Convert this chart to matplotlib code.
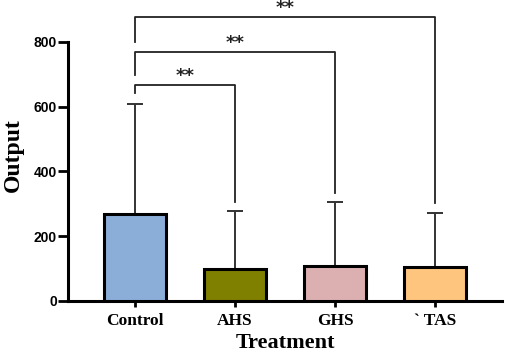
import matplotlib.pyplot as plt
import numpy as np

# datos
groups = ['Control', 'AHS', 'GHS', '` TAS']
means = [268, 99, 109, 105]
errors_up = [340, 179, 196, 167]
colors = ['#8aaed8', '#7f7f00', '#dcb0b1', '#fec57f']

# comparaciones (grupo destino, altura del corchete, fin de la pata izquierda, fin de la pata derecha)
comp_target = [1, 2, 3]
comp_height = [667, 769, 877]
comp_left_end = [642, 698, 800]
comp_right_end = [306, 333, 302]
comp_label = ['**', '**', '**']

fig = plt.figure(figsize=(5.05, 3.54), dpi=100)
ax = fig.add_axes([0.135, 0.15, 0.859, 0.823])

x = np.arange(len(groups))
ax.bar(x, means, width=0.62, color=colors, edgecolor='black', linewidth=2.2, zorder=3)
ax.errorbar(x, means, yerr=[np.zeros(len(means)), errors_up], fmt='none',
            ecolor='#333333', elinewidth=1.4, capsize=6, capthick=1.4, zorder=2)

# corchetes de significancia
for t, h, le, re, lab in zip(comp_target, comp_height, comp_left_end, comp_right_end, comp_label):
    ax.plot([0, 0, t, t], [le, h, h, re], color='#222222', lw=1.3, clip_on=False, zorder=4)
    ax.text(t / 2, h + 12, lab, ha='center', va='baseline', fontsize=13, fontweight='bold',
            color='#222222', clip_on=False)

ax.set_xlim(-0.67, 3.67)
ax.set_ylim(0, 900)
ax.set_yticks([0, 200, 400, 600, 800])
ax.set_xticks(x)
ax.set_xticklabels(groups, family='Liberation Serif', fontweight='bold', fontsize=12.5)
for lab in ax.get_yticklabels():
    lab.set_fontweight('bold')
    lab.set_fontsize(10)
    lab.set_family('Liberation Sans')

ax.spines['top'].set_visible(False)
ax.spines['right'].set_visible(False)
ax.spines['left'].set_bounds(0, 800)
ax.spines['left'].set_linewidth(2.2)
ax.spines['bottom'].set_linewidth(2.2)
ax.tick_params(axis='y', width=2, length=7, pad=1)
ax.tick_params(axis='x', width=2, length=4.5, pad=4)

ax.set_ylabel('Output', family='Liberation Serif', fontweight='bold', fontsize=17, labelpad=7)
ax.set_xlabel('Treatment', family='Liberation Serif', fontweight='bold', fontsize=16, labelpad=3)

fig.savefig('out.png', dpi=100)
